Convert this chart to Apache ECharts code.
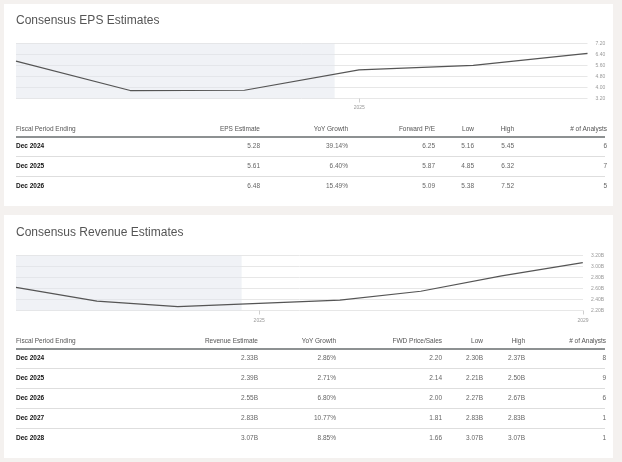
<!DOCTYPE html>
<html>
<head>
<meta charset="utf-8">
<script src="https://cdn.jsdelivr.net/npm/echarts@6/dist/echarts.min.js"></script>
<style>
  html, body { margin:0; padding:0; }
  body { width:622px; height:462px; background:#f4f1ef; position:relative; overflow:hidden;
         font-family:"Liberation Sans", Arial, sans-serif; }
  .panel { position:absolute; left:4px; width:609px; background:#fff; }
  #chart { position:absolute; left:0; top:0; width:622px; height:462px; z-index:1; }
  .tbl { position:absolute; left:0; top:0; width:622px; height:462px; z-index:2; }
  .cell { position:absolute; height:10px; line-height:10px; font-size:6.5px; white-space:nowrap; color:#666; }
  .hdr { color:#555; }
  .per { color:#111; font-weight:bold; }
  .hline { position:absolute; left:16px; width:589px; height:1px; background:#dedede; }
  .thick { height:2px; background:#8d9192; }
</style>
</head>
<body>
<div class="panel" style="top:4px;height:202px"></div>
<div class="panel" style="top:215px;height:243px"></div>
<div id="chart"></div>
<div class="tbl" id="tables"></div>
<script>
// ---------- data ----------
const epsDates = ['2021-12-31','2022-12-31','2023-12-31','2024-12-31','2025-12-31','2026-12-31'];
const epsValues = [5.92, 3.78, 3.80, 5.28, 5.61, 6.48];
const epsYTicks = [3.2, 4.0, 4.8, 5.6, 6.4, 7.2];
const epsXTickLabels = ['2025'];

const revDates = ['2021-12-31','2022-12-31','2023-12-31','2024-12-31','2025-12-31','2026-12-31','2027-12-31','2028-12-31'];
const revValues = [2.62, 2.37, 2.27, 2.33, 2.39, 2.55, 2.83, 3.07];
const revYTicks = [2.2, 2.4, 2.6, 2.8, 3.0, 3.2];
const revXTickLabels = ['2025', '2029'];

const historyEnd = '2024-10-14';

const epsHeaders = ['Fiscal Period Ending','EPS Estimate','YoY Growth','Forward P/E','Low','High','# of Analysts'];
const epsPeriods = ['Dec 2024','Dec 2025','Dec 2026'];
const epsEstimate = ['5.28','5.61','6.48'];
const epsYoY = ['39.14%','6.40%','15.49%'];
const epsFwdPE = ['6.25','5.87','5.09'];
const epsLow = ['5.16','4.85','5.38'];
const epsHigh = ['5.45','6.32','7.52'];
const epsAnalysts = ['6','7','5'];

const revHeaders = ['Fiscal Period Ending','Revenue Estimate','YoY Growth','FWD Price/Sales','Low','High','# of Analysts'];
const revPeriods = ['Dec 2024','Dec 2025','Dec 2026','Dec 2027','Dec 2028'];
const revEstimate = ['2.33B','2.39B','2.55B','2.83B','3.07B'];
const revYoY = ['2.86%','2.71%','6.80%','10.77%','8.85%'];
const revFwdPS = ['2.20','2.14','2.00','1.81','1.66'];
const revLow = ['2.30B','2.21B','2.27B','2.83B','3.07B'];
const revHigh = ['2.37B','2.50B','2.67B','2.83B','3.07B'];
const revAnalysts = ['8','9','6','1','1'];

// ---------- chart ----------
const FONT = '"Liberation Sans", Arial, sans-serif';
function t(s) { return new Date(s + 'T00:00:00').getTime(); }
function yearTicks(labels) { return labels.map(l => t(l + '-01-01')); }

function xAxisFor(gridIndex, dates, tickLabels, margin) {
  const ticks = yearTicks(tickLabels);
  return {
    type: 'value', gridIndex,
    min: t(dates[0]),
    max: Math.max(t(dates[dates.length - 1]), ticks[ticks.length - 1]),
    axisLine: { show: false },
    splitLine: { show: false },
    axisTick: { show: true, customValues: ticks, length: 4, lineStyle: { color: '#cfcfcf' } },
    axisLabel: { customValues: ticks, fontSize: 5, color: '#999', margin: margin, fontFamily: FONT,
      formatter: v => String(new Date(v + 43200000).getFullYear()) }
  };
}
function yAxisFor(gridIndex, ticks, suffix) {
  return {
    type: 'value', gridIndex, position: 'right',
    min: ticks[0], max: ticks[ticks.length - 1],
    interval: Math.round((ticks[1] - ticks[0]) * 100) / 100,
    axisLine: { show: false }, axisTick: { show: false },
    axisLabel: { fontSize: 5, color: '#999', margin: 8, fontFamily: FONT,
      formatter: v => v.toFixed(2) + suffix },
    splitLine: { lineStyle: { color: '#e7e7e7', width: 1 } }
  };
}
function lineSeries(idx, dates, values) {
  return {
    type: 'line', xAxisIndex: idx, yAxisIndex: idx,
    data: dates.map((d, i) => [t(d), values[i]]),
    showSymbol: false, silent: true,
    lineStyle: { color: '#555', width: 1.2 },
    markArea: { silent: true, itemStyle: { color: 'rgba(226,229,237,0.5)' },
      data: [[{ xAxis: t(dates[0]) }, { xAxis: t(historyEnd) }]] }
  };
}

const chart = echarts.init(document.getElementById('chart'), null, { renderer: 'canvas' });
chart.setOption({
  animation: false,
  backgroundColor: 'transparent',
  title: [
    { text: 'Consensus EPS Estimates', left: 16, top: 15, padding: 0,
      textStyle: { fontSize: 12, fontWeight: 'normal', color: '#555', fontFamily: FONT } },
    { text: 'Consensus Revenue Estimates', left: 16, top: 227, padding: 0,
      textStyle: { fontSize: 12, fontWeight: 'normal', color: '#555', fontFamily: FONT } }
  ],
  grid: [
    { left: 16, right: 34.5, top: 43.5, height: 55 },
    { left: 16, right: 39, top: 255.5, height: 55 }
  ],
  xAxis: [ xAxisFor(0, epsDates, epsXTickLabels, 7), xAxisFor(1, revDates, revXTickLabels, 8) ],
  yAxis: [ yAxisFor(0, epsYTicks, ''), yAxisFor(1, revYTicks, 'B') ],
  series: [ lineSeries(0, epsDates, epsValues), lineSeries(1, revDates, revValues) ]
});

// ---------- tables ----------
const host = document.getElementById('tables');
function addCell(text, col, cy, cls) {
  const d = document.createElement('div');
  d.className = 'cell ' + (cls || '');
  d.textContent = text;
  d.style.top = (cy - 5) + 'px';
  if (col.align === 'left') { d.style.left = col.x + 'px'; }
  else { d.style.right = (622 - col.x) + 'px'; d.style.textAlign = 'right'; }
  host.appendChild(d);
}
function addLine(y, thick) {
  const d = document.createElement('div');
  d.className = 'hline' + (thick ? ' thick' : '');
  d.style.top = y + 'px';
  host.appendChild(d);
}
function buildTable(cols, headers, columns, headerY, lineY, firstRowY) {
  headers.forEach((h, i) => addCell(h, cols[i], headerY, 'hdr'));
  addLine(lineY, true);
  const n = columns[0].length;
  for (let r = 0; r < n; r++) {
    const cy = firstRowY + r * 20;
    columns.forEach((c, i) => addCell(c[r], cols[i], cy, i === 0 ? 'per' : ''));
    if (r < n - 1) addLine(cy + 10, false);
  }
}
const epsCols = [
  { x: 16, align: 'left' }, { x: 260, align: 'right' }, { x: 348, align: 'right' },
  { x: 435, align: 'right' }, { x: 474, align: 'right' }, { x: 514, align: 'right' },
  { x: 607, align: 'right' }
];
const revCols = [
  { x: 16, align: 'left' }, { x: 258, align: 'right' }, { x: 336, align: 'right' },
  { x: 442, align: 'right' }, { x: 483, align: 'right' }, { x: 525, align: 'right' },
  { x: 606, align: 'right' }
];
buildTable(epsCols, epsHeaders,
  [epsPeriods, epsEstimate, epsYoY, epsFwdPE, epsLow, epsHigh, epsAnalysts], 129, 135.5, 146);
buildTable(revCols, revHeaders,
  [revPeriods, revEstimate, revYoY, revFwdPS, revLow, revHigh, revAnalysts], 341, 347.5, 358);
</script>
</body>
</html>
